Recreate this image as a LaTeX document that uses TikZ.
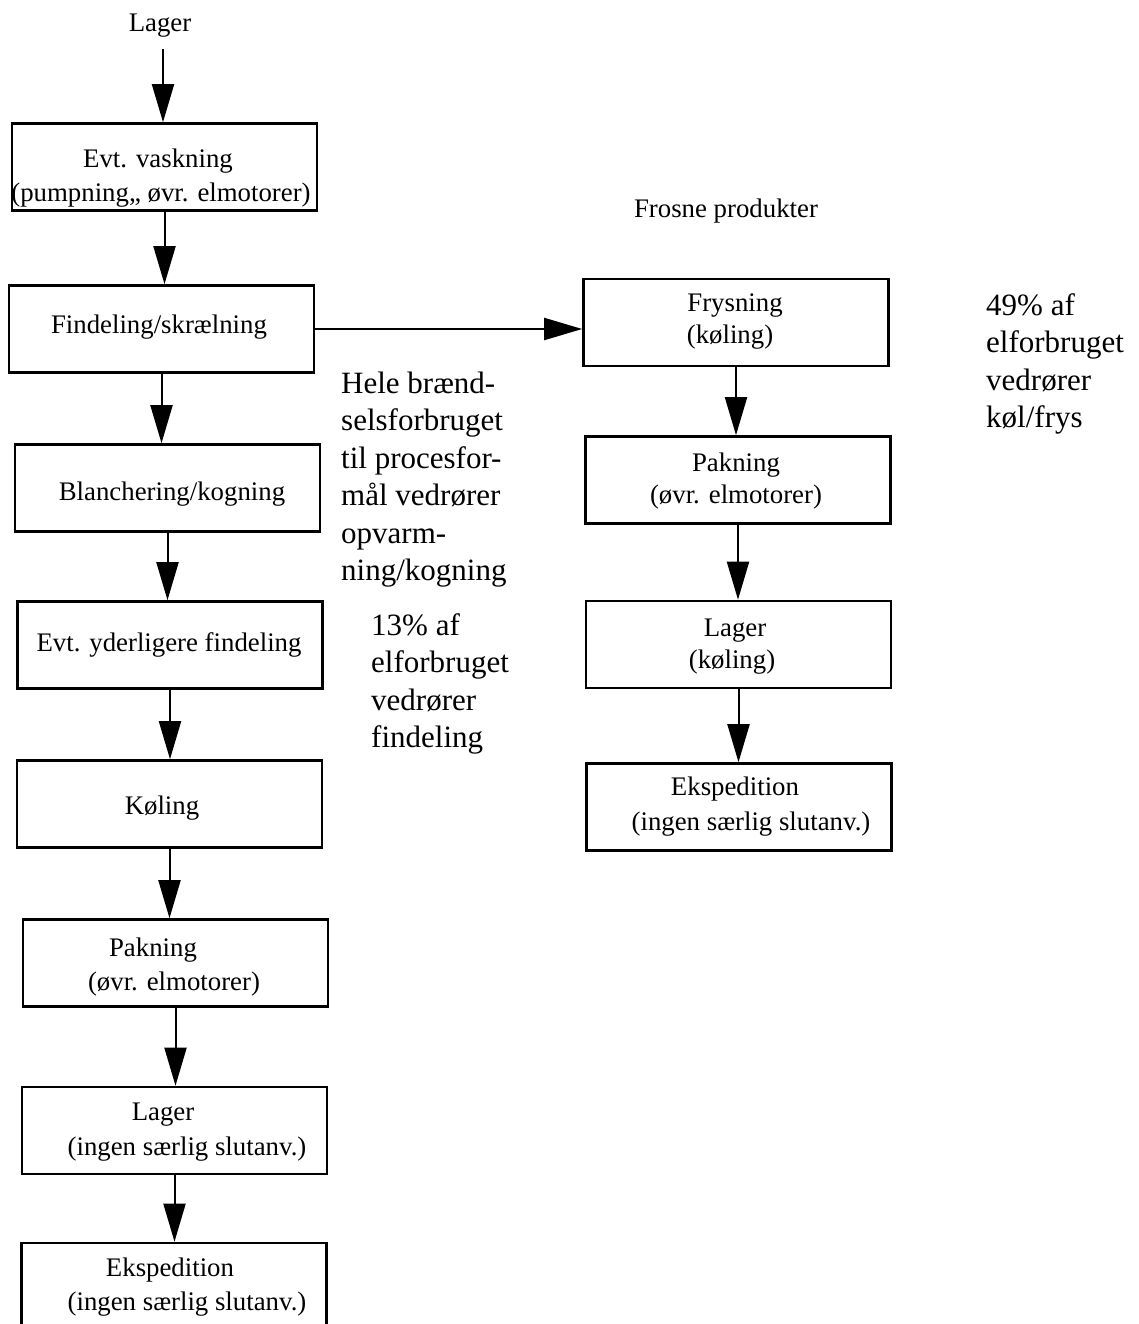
\documentclass[tikz,border=0pt]{standalone}
\usepackage{fontspec}
\setmainfont{Liberation Serif}
\usetikzlibrary{arrows.meta}
\begin{document}
\begin{tikzpicture}[x=1pt,y=-1pt,
  stage/.style={draw, line width=2.6pt, minimum width=305pt, minimum height=87pt, inner sep=0pt},
  lbl/.style={inner sep=0pt, font=\fontsize{26.8}{33}\selectfont, text height=23.7pt, text depth=5.9pt},
  note/.style={inner sep=0pt, anchor=north west, align=left, font=\fontsize{31}{37.5}\selectfont},
  flow/.style={line width=2pt, -{Triangle[length=38pt,width=22pt]}}
]
\useasboundingbox (0,0) rectangle (1139,1324);
\fill[white] (0,0) rectangle (1139,1324);
\clip (0,0) rectangle (1139,1324);

% main line (left column)
\node[stage] (b1) at (164.5,167) {};
\node[stage] (b2) at (161.5,329) {};
\node[stage] (b3) at (167.5,488) {};
\node[stage] (b4) at (170,645) {};
\node[stage] (b5) at (169.5,804) {};
\node[stage] (b6) at (175.5,963) {};
\node[stage] (b7) at (174.5,1130.5) {};
\node[stage] (b8) at (174,1286.5) {};

% frozen products branch (right column)
\node[stage] (r1) at (736,322.5) {};
\node[stage] (r2) at (738,480) {};
\node[stage] (r3) at (738.5,644.5) {};
\node[stage] (r4) at (739,807) {};

% box texts
\node[lbl] (top) at (160,23) {Lager};
\node[lbl] (b1a) at (158,159) {Evt. vaskning};
\node[lbl] (b1b) at (161,193) {(pumpning,, øvr. elmotorer)};
\node[lbl] (b2a) at (159,325) {Findeling/skrælning};
\node[lbl] (b3a) at (172,492) {Blanchering/kogning};
\node[lbl] (b4a) at (169,643) {Evt. yderligere findeling};
\node[lbl] (b5a) at (162,806) {Køling};
\node[lbl] (b6a) at (153,948) {Pakning};
\node[lbl] (b6b) at (174,982) {(øvr. elmotorer)};
\node[lbl] (b7a) at (163,1112) {Lager};
\node[lbl] (b7b) at (187,1147) {(ingen særlig slutanv.)};
\node[lbl] (b8a) at (170,1268) {Ekspedition};
\node[lbl] (b8b) at (187,1302) {(ingen særlig slutanv.)};

\node[lbl] (frosne) at (726,209) {Frosne produkter};
\node[lbl] (r1a) at (735,303) {Frysning};
\node[lbl] (r1b) at (730,335) {(køling)};
\node[lbl] (r2a) at (736,463) {Pakning};
\node[lbl] (r2b) at (736,495) {(øvr. elmotorer)};
\node[lbl] (r3a) at (735,628) {Lager};
\node[lbl] (r3b) at (732,660) {(køling)};
\node[lbl] (r4a) at (735,787) {Ekspedition};
\node[lbl] (r4b) at (751,822) {(ingen særlig slutanv.)};

% side notes
\node[note] (n1) at (341,371) {\rule{0pt}{22pt}Hele brænd-\\selsforbruget\\til procesfor-\\mål vedrører\\opvarm-\\ning/kogning};
\node[note] (n2) at (371,613) {\rule{0pt}{22pt}13\% af\\elforbruget\\vedrører\\findeling};
\node[note] (n3) at (986,293) {\rule{0pt}{22pt}49\% af\\elforbruget\\vedrører\\køl/frys};

% flow arrows
\coordinate (src) at (163,49);
\draw[flow] (src) -- (src |- b1.north);
\draw[flow] (b1.south) -- (b1.south |- b2.north);
\draw[flow] (b2.south) -- (b2.south |- b3.north);
\draw[flow] (b3.south) -- (b3.south |- b4.north);
\draw[flow] (b4.south) -- (b4.south |- b5.north);
\draw[flow] (b5.south) -- (b5.south |- b6.north);
\draw[flow] (b6.south) -- (b6.south |- b7.north);
\draw[flow] (b7.south) -- (b7.south |- b8.north);

\draw[flow] (b2.east) -- (b2.east -| r1.west);
\draw[flow] (r1.south) -- (r1.south |- r2.north);
\draw[flow] (r2.south) -- (r2.south |- r3.north);
\draw[flow] (r3.south) -- (r3.south |- r4.north);
\end{tikzpicture}
\end{document}
